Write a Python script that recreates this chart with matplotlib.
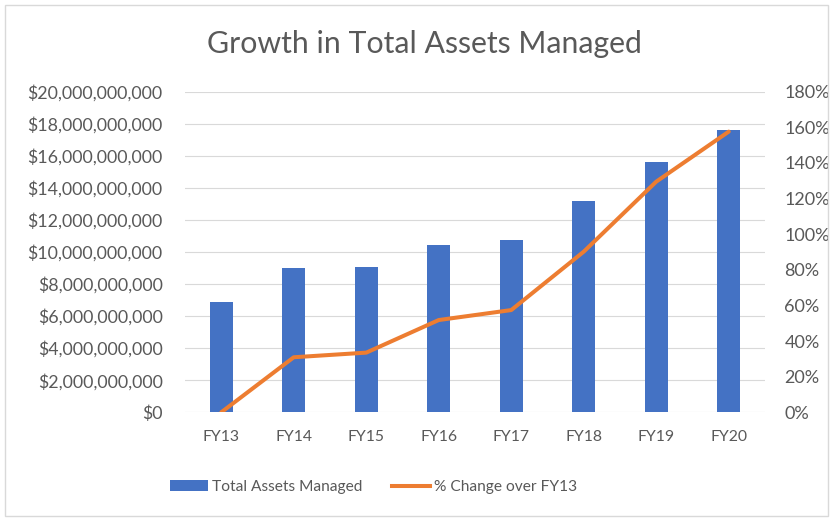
import matplotlib
matplotlib.use("Agg")
import matplotlib.pyplot as plt
import matplotlib.ticker as ticker
from matplotlib.patches import Patch, FancyBboxPatch
from matplotlib.lines import Line2D
import numpy as np

plt.rcParams['font.family'] = ['Lato', 'DejaVu Sans']

# Werte
jahre = ['FY13', 'FY14', 'FY15', 'FY16', 'FY17', 'FY18', 'FY19', 'FY20']
assets = [6.9e9, 8.98e9, 9.08e9, 10.44e9, 10.75e9, 13.18e9, 15.63e9, 17.61e9]
aenderung = [0.0, 30.9, 33.5, 51.8, 57.4, 90.2, 129.5, 157.6]

blau = '#4472C4'
orange = '#ED7D31'
grau = '#595959'

fig = plt.figure(figsize=(8.35, 5.19), dpi=100)
ax1 = fig.add_axes([185 / 835, 1 - 412.3 / 519, 580 / 835, 320.6 / 519])

x = np.arange(len(jahre))
ax1.bar(x, assets, width=0.32, color=blau, zorder=2)
ax1.set_xlim(-0.5, len(jahre) - 0.5)
ax1.set_ylim(0, 20e9)
ax1.yaxis.set_major_locator(ticker.MultipleLocator(2e9))
ax1.yaxis.set_major_formatter(ticker.FuncFormatter(lambda v, p: f'${v:,.0f}'))
ax1.set_xticks(x)
ax1.set_xticklabels(jahre)
ax1.grid(axis='y', color='#d9d9d9', linewidth=0.8, zorder=0)
ax1.set_axisbelow(True)
for s in ax1.spines.values():
    s.set_visible(False)
ax1.tick_params(axis='both', length=0, colors=grau)
ax1.tick_params(axis='x', pad=13, labelsize=11.3)
ax1.tick_params(axis='y', pad=16, labelsize=12.8)

ax2 = ax1.twinx()
ax2.plot(x, aenderung, color=orange, linewidth=2.9, solid_capstyle='round', zorder=3)
ax2.set_ylim(0, 180)
ax2.yaxis.set_major_locator(ticker.MultipleLocator(20))
ax2.yaxis.set_major_formatter(ticker.FuncFormatter(lambda v, p: f'{v:.0f}%'))
for s in ax2.spines.values():
    s.set_visible(False)
ax2.tick_params(axis='y', length=0, colors=grau, labelsize=13, pad=14)

fig.text(0.508, 1 - 44 / 519, 'Growth in Total Assets Managed', ha='center', va='center',
         fontsize=21.8, color=grau)

handles = [Patch(facecolor=blau, label='Total Assets Managed'),
           Line2D([0], [0], color=orange, linewidth=2.9, label='% Change over FY13')]
fig.legend(handles=handles, loc='center', bbox_to_anchor=(374 / 835, 1 - 487 / 519), ncol=2,
           frameon=False, fontsize=11.2, labelcolor=grau, handlelength=2.4,
           handletextpad=0.3, columnspacing=1.9)

# Rahmen
rahmen = FancyBboxPatch((5 / 835, 3 / 519), 1 - 12 / 835, 1 - 8 / 519, boxstyle='square,pad=0',
                        transform=fig.transFigure, fill=False, edgecolor='#d9d9d9', linewidth=1)
fig.patches.append(rahmen)

fig.savefig('out.png', dpi=100)
